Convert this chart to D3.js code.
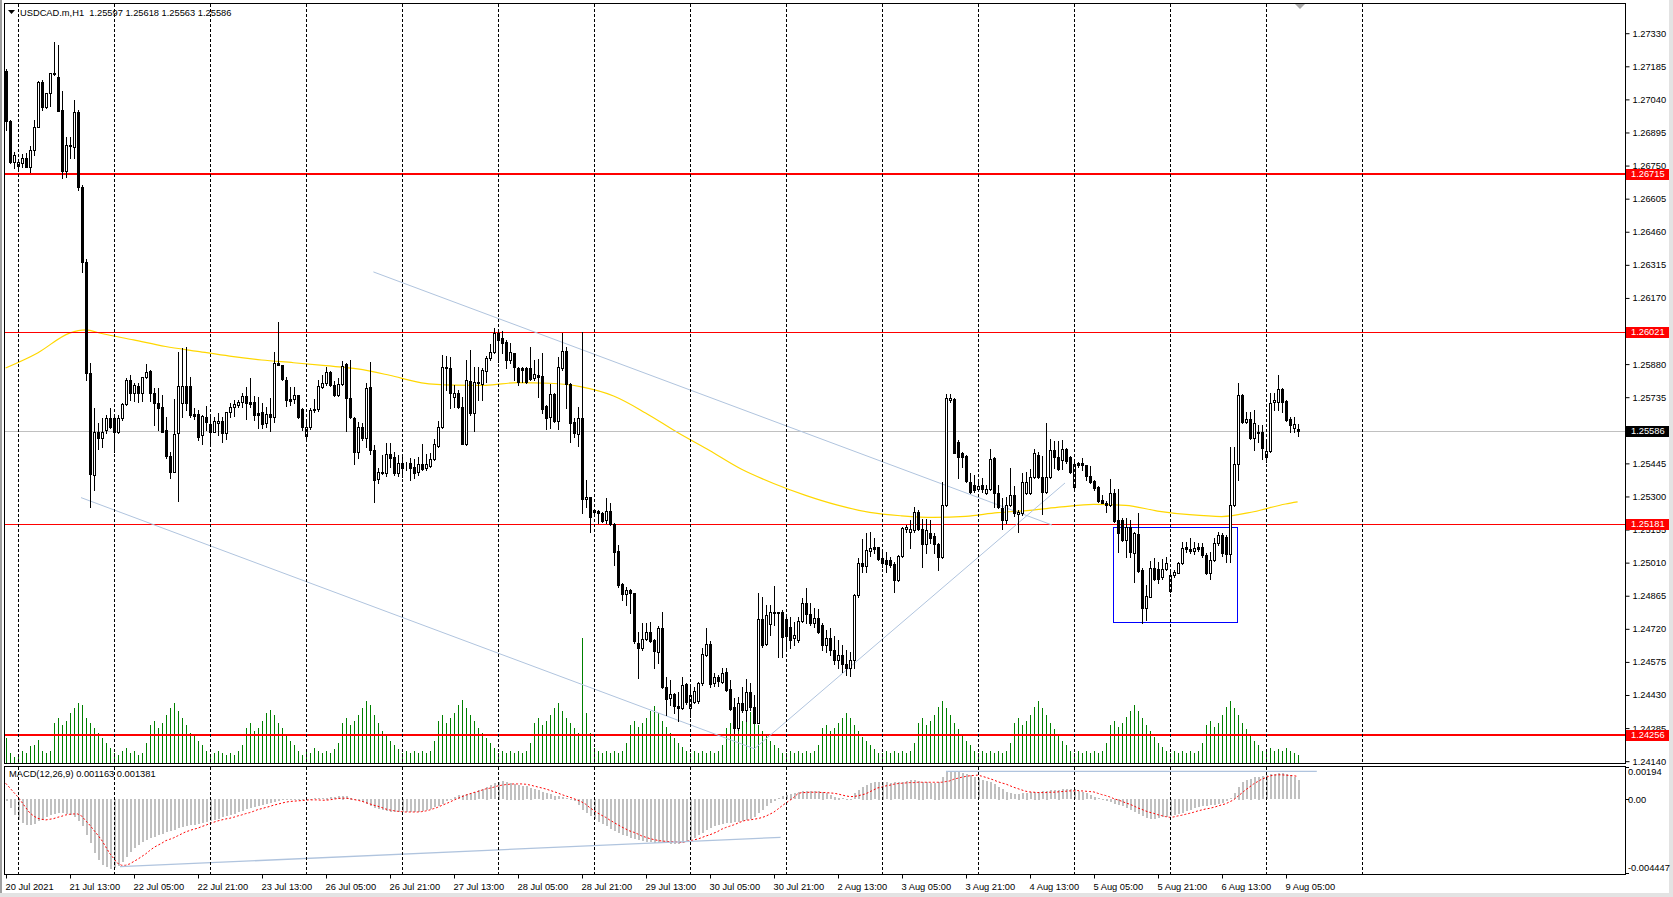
<!DOCTYPE html>
<html><head><meta charset="utf-8">
<script src="https://cdn.jsdelivr.net/npm/d3@7"></script>
<style>
body{margin:0;background:#fff;}
svg{display:block;font-family:"Liberation Sans",Arial,sans-serif;}
</style>
</head><body>
<svg id="c" width="1673" height="897"></svg>
<script>
// ---------------- DATA ----------------
const symbolTitle = "USDCAD.m,H1";
const opens = [
1.27166,1.26947,1.26767,1.26750,1.26760,1.26784,1.26745,1.26819,1.26921,1.27115,
1.27006,1.27067,1.27150,1.27137,1.26994,1.26728,1.26836,1.26833,1.26984,1.26655,
1.26326,1.25840,1.25394,1.25584,1.25555,1.25591,1.25643,1.25643,1.25584,1.25643,
1.25705,1.25811,1.25755,1.25784,1.25755,1.25822,1.25851,1.25752,1.25711,1.25691,
1.25591,1.25479,1.25409,1.25577,1.25711,1.25786,1.25786,1.25661,1.25661,1.25569,
1.25650,1.25618,1.25584,1.25621,1.25632,1.25577,1.25669,1.25691,1.25701,1.25715,
1.25740,1.25715,1.25715,1.25667,1.25669,1.25621,1.25660,1.25650,1.25886,1.25876,
1.25811,1.25727,1.25726,1.25745,1.25683,1.25565,1.25603,1.25678,1.25683,1.25781,
1.25796,1.25847,1.25789,1.25745,1.25793,1.25879,1.25730,1.25643,1.25494,1.25606,
1.25555,1.25779,1.25504,1.25375,1.25409,1.25404,1.25485,1.25474,1.25404,1.25445,
1.25437,1.25445,1.25431,1.25409,1.25442,1.25423,1.25435,1.25463,1.25522,1.25603,
1.25869,1.25862,1.25737,1.25752,1.25691,1.25530,1.25807,1.25664,1.25803,1.25793,
1.25850,1.25906,1.25932,1.26015,1.25993,1.25978,1.25898,1.25928,1.25864,1.25862,
1.25862,1.25862,1.25818,1.25832,1.25828,1.25696,1.25647,1.25749,1.25632,1.25862,
1.25938,1.25792,1.25625,1.25574,1.25643,1.25289,1.25296,1.25241,1.25238,1.25226,
1.25197,1.25236,1.25179,1.25062,1.24916,1.24871,1.24890,1.24878,1.24659,1.24635,
1.24674,1.24707,1.24671,1.24620,1.24722,1.24464,1.24415,1.24433,1.24382,1.24372,
1.24478,1.24372,1.24401,1.24405,1.24481,1.24605,1.24653,1.24484,1.24507,1.24488,
1.24532,1.24455,1.24376,1.24284,1.24393,1.24364,1.24444,1.24378,1.24308,1.24762,
1.24653,1.24741,1.24795,1.24795,1.24795,1.24762,1.24729,1.24678,1.24671,1.24756,
1.24834,1.24785,1.24744,1.24766,1.24737,1.24649,1.24680,1.24627,1.24583,1.24605,
1.24566,1.24548,1.24583,1.24868,1.25010,1.24995,1.25062,1.25077,1.25077,1.25029,
1.25022,1.25022,1.25003,1.24934,1.25039,1.25156,1.25146,1.25153,1.25233,1.25156,
1.25092,1.25141,1.25127,1.25092,1.25033,1.25263,1.25723,1.25726,1.25540,1.25489,
1.25477,1.25365,1.25350,1.25331,1.25350,1.25314,1.25331,1.25467,1.25314,1.25248,
1.25197,1.25263,1.25306,1.25223,1.25226,1.25314,1.25317,1.25384,1.25482,1.25384,
1.25321,1.25384,1.25504,1.25472,1.25460,1.25507,1.25472,1.25340,1.25445,1.25445,
1.25438,1.25390,1.25369,1.25343,1.25284,1.25273,1.25263,1.25314,1.25197,1.25197,
1.25109,1.25168,1.25054,1.25136,1.24978,1.24810,1.24861,1.24985,1.24981,1.24946,
1.24981,1.24887,1.24956,1.24966,1.25007,1.25077,1.25068,1.25062,1.25077,1.25077,
1.25043,1.24963,1.25022,1.25095,1.25131,1.25124,1.25048,1.25263,1.25441,1.25745,
1.25628,1.25638,1.25555,1.25577,1.25584,1.25472,1.25501,1.25713,1.25713,1.25770,
1.25720,1.25638,1.25599,1.25597];
const highs = [
1.27175,1.26950,1.26811,1.26772,1.26801,1.26804,1.26836,1.26950,1.27121,1.27125,
1.27068,1.27157,1.27291,1.27279,1.27078,1.26877,1.26877,1.27038,1.26994,1.26665,
1.26341,1.25884,1.25686,1.25621,1.25643,1.25657,1.25686,1.25650,1.25657,1.25711,
1.25818,1.25832,1.25796,1.25796,1.25825,1.25879,1.25854,1.25774,1.25774,1.25745,
1.25650,1.25496,1.25726,1.25935,1.25949,1.25956,1.25825,1.25686,1.25679,1.25657,
1.25696,1.25650,1.25650,1.25664,1.25650,1.25671,1.25708,1.25723,1.25723,1.25752,
1.25781,1.25818,1.25740,1.25737,1.25711,1.25693,1.25730,1.25932,1.26066,1.25876,
1.25822,1.25779,1.25781,1.25745,1.25689,1.25628,1.25686,1.25726,1.25811,1.25832,
1.25869,1.25851,1.25807,1.25818,1.25894,1.25884,1.25898,1.25650,1.25628,1.25621,
1.25799,1.25891,1.25526,1.25423,1.25482,1.25533,1.25533,1.25496,1.25482,1.25474,
1.25452,1.25467,1.25463,1.25474,1.25530,1.25486,1.25489,1.25550,1.25632,1.25920,
1.25916,1.25913,1.25789,1.25767,1.25737,1.25898,1.25942,1.25869,1.25869,1.25862,
1.25916,1.25968,1.26037,1.26034,1.26027,1.25986,1.25971,1.25930,1.25869,1.25869,
1.25869,1.25956,1.25898,1.25901,1.25928,1.25701,1.25793,1.25752,1.25913,1.26018,
1.25956,1.25796,1.25643,1.25693,1.26022,1.25372,1.25299,1.25244,1.25241,1.25233,
1.25292,1.25273,1.25182,1.25087,1.24922,1.24904,1.24893,1.24878,1.24707,1.24747,
1.24744,1.24751,1.24674,1.24732,1.24795,1.24510,1.24496,1.24437,1.24444,1.24507,
1.24481,1.24466,1.24466,1.24488,1.24635,1.24722,1.24668,1.24528,1.24518,1.24547,
1.24547,1.24496,1.24415,1.24422,1.24466,1.24499,1.24481,1.24430,1.24878,1.24861,
1.24824,1.24824,1.24908,1.24795,1.24803,1.24776,1.24773,1.24750,1.24773,1.24856,
1.24898,1.24832,1.24810,1.24805,1.24745,1.24715,1.24724,1.24688,1.24671,1.24649,
1.24627,1.24618,1.24873,1.25029,1.25112,1.25141,1.25146,1.25117,1.25080,1.25058,
1.25058,1.25033,1.25014,1.25043,1.25165,1.25175,1.25197,1.25255,1.25241,1.25200,
1.25200,1.25197,1.25141,1.25095,1.25365,1.25749,1.25749,1.25730,1.25548,1.25496,
1.25482,1.25402,1.25394,1.25365,1.25380,1.25350,1.25507,1.25472,1.25350,1.25292,
1.25299,1.25423,1.25346,1.25241,1.25404,1.25409,1.25419,1.25507,1.25496,1.25477,
1.25622,1.25550,1.25544,1.25544,1.25548,1.25511,1.25477,1.25460,1.25452,1.25467,
1.25438,1.25434,1.25372,1.25346,1.25306,1.25281,1.25375,1.25331,1.25331,1.25204,
1.25204,1.25197,1.25146,1.25229,1.24985,1.24912,1.25019,1.25029,1.25014,1.25025,
1.25036,1.24978,1.24978,1.25014,1.25102,1.25102,1.25117,1.25102,1.25097,1.25097,
1.25051,1.25058,1.25117,1.25146,1.25141,1.25131,1.25516,1.25516,1.25799,1.25749,
1.25671,1.25671,1.25679,1.25613,1.25613,1.25550,1.25755,1.25752,1.25832,1.25774,
1.25723,1.25650,1.25650,1.25618];
const lows = [
1.26906,1.26762,1.26738,1.26734,1.26745,1.26743,1.26723,1.26797,1.26918,1.26994,
1.27003,1.27011,1.27147,1.26991,1.26695,1.26702,1.26782,1.26782,1.26643,1.26285,
1.25811,1.25253,1.25328,1.25507,1.25518,1.25577,1.25599,1.25496,1.25580,1.25635,
1.25701,1.25723,1.25720,1.25715,1.25720,1.25818,1.25720,1.25613,1.25591,1.25584,
1.25467,1.25382,1.25409,1.25281,1.25647,1.25679,1.25647,1.25638,1.25548,1.25530,
1.25591,1.25533,1.25581,1.25569,1.25540,1.25550,1.25650,1.25653,1.25693,1.25691,
1.25638,1.25693,1.25635,1.25599,1.25599,1.25606,1.25588,1.25628,1.25875,1.25811,
1.25696,1.25701,1.25708,1.25643,1.25591,1.25550,1.25594,1.25671,1.25675,1.25774,
1.25789,1.25784,1.25740,1.25740,1.25789,1.25588,1.25643,1.25442,1.25467,1.25548,
1.25518,1.25486,1.25277,1.25358,1.25399,1.25390,1.25431,1.25394,1.25390,1.25387,
1.25416,1.25372,1.25380,1.25394,1.25416,1.25416,1.25431,1.25460,1.25518,1.25599,
1.25767,1.25686,1.25691,1.25686,1.25530,1.25526,1.25657,1.25588,1.25723,1.25723,
1.25803,1.25898,1.25928,1.25891,1.25928,1.25862,1.25884,1.25811,1.25789,1.25803,
1.25796,1.25811,1.25811,1.25737,1.25664,1.25594,1.25599,1.25628,1.25594,1.25854,
1.25686,1.25540,1.25562,1.25521,1.25226,1.25255,1.25146,1.25214,1.25185,1.25189,
1.25185,1.25175,1.25000,1.24904,1.24846,1.24824,1.24788,1.24659,1.24503,1.24627,
1.24671,1.24663,1.24547,1.24569,1.24459,1.24342,1.24386,1.24350,1.24317,1.24367,
1.24390,1.24335,1.24396,1.24393,1.24474,1.24601,1.24466,1.24469,1.24469,1.24484,
1.24449,1.24364,1.24262,1.24276,1.24357,1.24317,1.24364,1.24306,1.24306,1.24642,
1.24649,1.24693,1.24737,1.24595,1.24598,1.24635,1.24636,1.24649,1.24663,1.24751,
1.24744,1.24737,1.24729,1.24700,1.24627,1.24618,1.24605,1.24566,1.24548,1.24531,
1.24518,1.24513,1.24548,1.24861,1.24970,1.24970,1.25039,1.25051,1.25022,1.24992,
1.24970,1.24991,1.24883,1.24931,1.25036,1.25146,1.25073,1.25146,1.25153,1.24990,
1.25051,1.25095,1.25051,1.24978,1.25029,1.25258,1.25715,1.25489,1.25380,1.25431,
1.25365,1.25314,1.25321,1.25325,1.25321,1.25311,1.25328,1.25255,1.25248,1.25156,
1.25185,1.25258,1.25214,1.25146,1.25219,1.25311,1.25311,1.25380,1.25380,1.25223,
1.25317,1.25380,1.25423,1.25416,1.25419,1.25448,1.25402,1.25336,1.25431,1.25416,
1.25372,1.25358,1.25328,1.25277,1.25270,1.25233,1.25258,1.25189,1.25058,1.25106,
1.25036,1.25033,1.24926,1.24970,1.24744,1.24759,1.24858,1.24934,1.24919,1.24937,
1.24978,1.24883,1.24946,1.24963,1.25004,1.25058,1.25054,1.25048,1.25062,1.25036,
1.24960,1.24937,1.25019,1.25087,1.25039,1.25014,1.25014,1.25258,1.25372,1.25623,
1.25623,1.25550,1.25504,1.25540,1.25463,1.25452,1.25496,1.25679,1.25679,1.25671,
1.25632,1.25584,1.25584,1.25563];
const closes = [
1.26947,1.26767,1.26795,1.26765,1.26784,1.26745,1.26819,1.26921,1.27115,1.27006,
1.27067,1.27155,1.27157,1.26991,1.26728,1.26841,1.26841,1.26984,1.26655,1.26326,
1.25840,1.25399,1.25584,1.25555,1.25584,1.25643,1.25606,1.25584,1.25643,1.25705,
1.25811,1.25752,1.25789,1.25755,1.25822,1.25847,1.25752,1.25711,1.25686,1.25584,
1.25479,1.25406,1.25573,1.25786,1.25786,1.25711,1.25657,1.25653,1.25562,1.25653,
1.25628,1.25584,1.25632,1.25632,1.25577,1.25669,1.25691,1.25705,1.25715,1.25740,
1.25711,1.25705,1.25657,1.25657,1.25618,1.25660,1.25650,1.25884,1.25875,1.25814,
1.25723,1.25720,1.25745,1.25647,1.25603,1.25603,1.25679,1.25683,1.25784,1.25796,
1.25847,1.25789,1.25745,1.25793,1.25873,1.25730,1.25647,1.25496,1.25606,1.25555,
1.25774,1.25504,1.25372,1.25406,1.25404,1.25485,1.25467,1.25404,1.25445,1.25423,
1.25438,1.25423,1.25404,1.25442,1.25420,1.25442,1.25463,1.25530,1.25603,1.25869,
1.25862,1.25752,1.25752,1.25691,1.25530,1.25811,1.25664,1.25803,1.25796,1.25854,
1.25906,1.25932,1.26015,1.25986,1.25971,1.25898,1.25932,1.25869,1.25803,1.25854,
1.25803,1.25815,1.25837,1.25822,1.25682,1.25643,1.25749,1.25632,1.25866,1.25938,
1.25792,1.25623,1.25577,1.25643,1.25289,1.25299,1.25209,1.25233,1.25226,1.25194,
1.25236,1.25179,1.25058,1.24912,1.24871,1.24890,1.24876,1.24668,1.24635,1.24674,
1.24705,1.24668,1.24623,1.24722,1.24464,1.24411,1.24433,1.24382,1.24372,1.24474,
1.24401,1.24430,1.24449,1.24481,1.24610,1.24653,1.24478,1.24507,1.24493,1.24528,
1.24452,1.24367,1.24284,1.24393,1.24364,1.24444,1.24378,1.24308,1.24762,1.24649,
1.24781,1.24795,1.24788,1.24788,1.24685,1.24688,1.24671,1.24693,1.24756,1.24834,
1.24785,1.24744,1.24766,1.24707,1.24649,1.24680,1.24627,1.24583,1.24605,1.24566,
1.24548,1.24583,1.24868,1.25010,1.24995,1.25065,1.25073,1.25068,1.25025,1.25007,
1.25004,1.25000,1.24934,1.25039,1.25160,1.25165,1.25156,1.25233,1.25156,1.25092,
1.25153,1.25117,1.25092,1.25033,1.25263,1.25730,1.25730,1.25492,1.25472,1.25472,
1.25369,1.25321,1.25328,1.25346,1.25331,1.25331,1.25463,1.25314,1.25253,1.25197,
1.25263,1.25306,1.25226,1.25233,1.25365,1.25365,1.25387,1.25489,1.25384,1.25321,
1.25384,1.25504,1.25472,1.25419,1.25507,1.25457,1.25409,1.25442,1.25438,1.25438,
1.25390,1.25365,1.25336,1.25281,1.25273,1.25263,1.25314,1.25194,1.25139,1.25109,
1.25168,1.25058,1.25139,1.24975,1.24810,1.24864,1.24985,1.24937,1.24937,1.24981,
1.25007,1.24956,1.24970,1.25010,1.25073,1.25068,1.25062,1.25073,1.25068,1.25043,
1.24966,1.25022,1.25095,1.25131,1.25051,1.25048,1.25263,1.25441,1.25745,1.25628,
1.25638,1.25555,1.25621,1.25584,1.25511,1.25501,1.25708,1.25723,1.25770,1.25715,
1.25635,1.25613,1.25618,1.25586];
const tickVolumes = [
25,10,6,
6,12,10,17,18,23,12,10,12,40,45,38,42,50,55,60,58,45,40,35,30,25,20,15,
10,8,12,15,10,12,8,10,20,38,42,35,40,48,55,60,52,45,38,30,28,22,18,12,
8,10,12,10,8,10,8,12,18,35,40,32,35,42,50,53,48,40,35,28,22,18,12,8,
12,10,15,12,10,12,10,14,20,40,45,38,42,48,55,62,58,48,40,32,28,22,18,14,
10,12,10,12,10,12,10,12,22,42,48,40,45,50,58,63,55,48,42,35,30,25,20,15,
10,12,10,12,10,12,10,12,20,40,45,38,42,48,55,60,52,45,40,35,30,125,50,30,
15,12,10,12,10,12,10,12,20,38,42,36,40,45,52,57,50,42,36,30,25,20,16,12,
10,12,10,12,10,12,10,12,18,35,40,33,36,42,48,51,45,38,32,28,22,18,15,10,
10,12,10,12,10,12,10,12,18,35,38,32,35,40,45,50,45,38,32,26,22,18,14,10,
10,12,10,12,10,12,10,12,20,40,45,38,42,48,56,62,55,48,40,34,28,22,18,12,
10,12,10,12,10,12,10,12,20,40,45,38,42,48,56,62,55,48,40,34,28,22,18,12,
10,12,10,12,10,12,10,12,20,38,42,36,40,46,52,58,52,45,38,32,26,20,16,12,
10,12,10,12,10,12,10,12,20,38,42,36,40,48,56,62,55,48,40,34,28,22,18,12,
12,15,12,14,12,15,12,10,8];
const macdMain = [
-0.00014,-0.00055,-0.00095,-0.00125,-0.00145,-0.00157,-0.00159,-0.00149,-0.00135,-0.00125,
-0.00111,-0.00099,-0.00089,-0.00085,-0.00085,-0.00089,-0.00097,-0.00109,-0.00135,-0.00165,
-0.00215,-0.00266,-0.00326,-0.00370,-0.00396,-0.00410,-0.00420,-0.00418,-0.00402,-0.00378,
-0.00352,-0.00322,-0.00296,-0.00276,-0.00262,-0.00250,-0.00238,-0.00227,-0.00217,-0.00209,
-0.00201,-0.00193,-0.00185,-0.00177,-0.00171,-0.00165,-0.00159,-0.00155,-0.00151,-0.00147,
-0.00141,-0.00135,-0.00127,-0.00119,-0.00111,-0.00103,-0.00095,-0.00089,-0.00081,-0.00071,
-0.00061,-0.00055,-0.00049,-0.00042,-0.00036,-0.00032,-0.00026,-0.00018,-0.00012,-0.00008,
-0.00004,-0.00002,0.00000,0.00000,0.00002,0.00002,0.00004,0.00006,0.00006,0.00008,
0.00010,0.00012,0.00014,0.00018,0.00022,0.00018,0.00010,0.00000,-0.00008,-0.00018,
-0.00030,-0.00042,-0.00055,-0.00063,-0.00069,-0.00075,-0.00077,-0.00079,-0.00081,-0.00081,
-0.00081,-0.00081,-0.00079,-0.00077,-0.00073,-0.00067,-0.00059,-0.00049,-0.00040,-0.00028,
-0.00012,0.00000,0.00014,0.00024,0.00028,0.00034,0.00040,0.00046,0.00054,0.00062,
0.00076,0.00086,0.00096,0.00106,0.00110,0.00106,0.00100,0.00094,0.00088,0.00082,
0.00078,0.00070,0.00062,0.00054,0.00046,0.00038,0.00030,0.00022,0.00018,0.00014,
0.00006,-0.00002,-0.00012,-0.00034,-0.00065,-0.00085,-0.00105,-0.00121,-0.00137,-0.00153,
-0.00165,-0.00179,-0.00191,-0.00203,-0.00215,-0.00225,-0.00233,-0.00242,-0.00250,-0.00256,
-0.00260,-0.00262,-0.00264,-0.00266,-0.00268,-0.00268,-0.00270,-0.00270,-0.00272,-0.00268,
-0.00258,-0.00246,-0.00232,-0.00217,-0.00203,-0.00189,-0.00177,-0.00165,-0.00155,-0.00149,
-0.00145,-0.00143,-0.00139,-0.00137,-0.00135,-0.00129,-0.00119,-0.00109,-0.00085,-0.00065,
-0.00040,-0.00024,-0.00010,0.00006,0.00018,0.00026,0.00034,0.00038,0.00044,0.00050,
0.00050,0.00050,0.00048,0.00048,0.00046,0.00036,0.00024,0.00016,0.00010,0.00006,
0.00002,0.00000,0.00036,0.00056,0.00076,0.00088,0.00100,0.00104,0.00106,0.00106,
0.00102,0.00100,0.00102,0.00102,0.00106,0.00110,0.00114,0.00116,0.00112,0.00106,
0.00102,0.00096,0.00100,0.00106,0.00132,0.00163,0.00169,0.00167,0.00163,0.00159,
0.00151,0.00143,0.00134,0.00126,0.00116,0.00110,0.00102,0.00092,0.00076,0.00060,
0.00046,0.00038,0.00032,0.00034,0.00036,0.00040,0.00044,0.00046,0.00046,0.00048,
0.00052,0.00054,0.00056,0.00058,0.00060,0.00060,0.00060,0.00060,0.00052,0.00046,
0.00036,0.00026,0.00016,0.00006,-0.00002,-0.00010,-0.00018,-0.00028,-0.00036,-0.00044,
-0.00055,-0.00065,-0.00077,-0.00091,-0.00105,-0.00115,-0.00119,-0.00121,-0.00117,-0.00111,
-0.00107,-0.00101,-0.00095,-0.00089,-0.00083,-0.00075,-0.00065,-0.00057,-0.00049,-0.00044,
-0.00040,-0.00038,-0.00034,-0.00030,-0.00026,-0.00014,0.00006,0.00036,0.00076,0.00106,
0.00116,0.00124,0.00132,0.00136,0.00140,0.00144,0.00149,0.00153,0.00157,0.00157,
0.00151,0.00143,0.00132,0.001163];
const macdSignal = [
0.00096,0.00070,0.00042,0.00016,-0.00016,-0.00050,-0.00081,-0.00101,-0.00115,-0.00121,
-0.00125,-0.00121,-0.00117,-0.00109,-0.00103,-0.00095,-0.00091,-0.00089,-0.00089,-0.00101,
-0.00129,-0.00155,-0.00185,-0.00215,-0.00246,-0.00286,-0.00326,-0.00356,-0.00386,-0.00398,
-0.00398,-0.00390,-0.00376,-0.00362,-0.00346,-0.00330,-0.00310,-0.00292,-0.00278,-0.00266,
-0.00250,-0.00242,-0.00233,-0.00221,-0.00209,-0.00197,-0.00189,-0.00181,-0.00175,-0.00165,
-0.00157,-0.00147,-0.00139,-0.00131,-0.00125,-0.00119,-0.00115,-0.00109,-0.00101,-0.00095,
-0.00087,-0.00081,-0.00073,-0.00063,-0.00057,-0.00050,-0.00044,-0.00036,-0.00030,-0.00024,
-0.00018,-0.00014,-0.00012,-0.00010,-0.00008,-0.00006,-0.00004,-0.00004,-0.00004,-0.00006,
-0.00006,-0.00004,0.00000,0.00004,0.00006,0.00006,0.00004,-0.00002,-0.00006,-0.00012,
-0.00020,-0.00028,-0.00036,-0.00042,-0.00050,-0.00059,-0.00065,-0.00069,-0.00073,-0.00075,
-0.00077,-0.00077,-0.00077,-0.00077,-0.00075,-0.00071,-0.00065,-0.00057,-0.00049,-0.00038,
-0.00028,-0.00018,-0.00006,0.00004,0.00014,0.00024,0.00032,0.00040,0.00046,0.00054,
0.00062,0.00066,0.00072,0.00080,0.00084,0.00088,0.00090,0.00092,0.00092,0.00092,
0.00090,0.00086,0.00080,0.00074,0.00068,0.00062,0.00054,0.00046,0.00038,0.00028,
0.00020,0.00012,0.00004,-0.00006,-0.00016,-0.00030,-0.00050,-0.00067,-0.00083,-0.00097,
-0.00109,-0.00125,-0.00139,-0.00153,-0.00167,-0.00179,-0.00191,-0.00199,-0.00209,-0.00221,
-0.00229,-0.00237,-0.00243,-0.00248,-0.00252,-0.00254,-0.00256,-0.00256,-0.00258,-0.00260,
-0.00256,-0.00250,-0.00246,-0.00240,-0.00232,-0.00222,-0.00215,-0.00205,-0.00195,-0.00181,
-0.00171,-0.00163,-0.00155,-0.00145,-0.00135,-0.00127,-0.00125,-0.00121,-0.00117,-0.00111,
-0.00103,-0.00091,-0.00079,-0.00061,-0.00042,-0.00024,-0.00008,0.00010,0.00032,0.00040,
0.00040,0.00042,0.00042,0.00042,0.00040,0.00040,0.00038,0.00036,0.00032,0.00026,
0.00020,0.00016,0.00016,0.00020,0.00026,0.00032,0.00044,0.00056,0.00068,0.00072,
0.00080,0.00084,0.00090,0.00094,0.00096,0.00098,0.00100,0.00100,0.00102,0.00102,
0.00102,0.00102,0.00102,0.00102,0.00102,0.00106,0.00110,0.00120,0.00126,0.00132,
0.00137,0.00141,0.00143,0.00145,0.00139,0.00132,0.00124,0.00116,0.00106,0.00098,
0.00092,0.00082,0.00072,0.00064,0.00056,0.00048,0.00044,0.00042,0.00040,0.00040,
0.00040,0.00042,0.00042,0.00044,0.00046,0.00048,0.00050,0.00050,0.00052,0.00050,
0.00048,0.00046,0.00044,0.00036,0.00028,0.00022,0.00014,0.00004,-0.00004,-0.00012,
-0.00022,-0.00030,-0.00040,-0.00052,-0.00061,-0.00071,-0.00079,-0.00085,-0.00093,-0.00099,
-0.00105,-0.00109,-0.00107,-0.00101,-0.00097,-0.00091,-0.00085,-0.00079,-0.00071,-0.00065,
-0.00059,-0.00055,-0.00049,-0.00042,-0.00034,-0.00028,-0.00016,-0.00004,0.00016,0.00036,
0.00056,0.00074,0.00092,0.00106,0.00120,0.00130,0.00140,0.00145,0.00147,0.00147,
0.00145,0.00143,0.00141,0.001381];
// Moving average (yellow) read at sample bars
const maBars   = [0,8,16,20,24,32,40,48,56,64,72,80,88,96,104,112,120,128,136,144,152,160,168,176,184,192,200,208,216,224,232,240,248,256,264,272,280,288,296,304,312,320,323];
const maValues = [1.25863,1.25929,1.26016,1.26030,1.26014,1.25986,1.25957,1.25936,1.25915,1.25898,1.25886,1.25873,1.25859,1.25831,1.25798,1.25788,1.25787,1.25799,1.25796,1.25780,1.25740,1.25666,1.25580,1.25501,1.25419,1.25357,1.25305,1.25262,1.25230,1.25215,1.25208,1.25213,1.25229,1.25239,1.25254,1.25265,1.25261,1.25236,1.25220,1.25212,1.25233,1.25267,1.25276];
const levelPrices = [1.26715, 1.26021, 1.25181, 1.24256];
const currentPrice = 1.25586;
const priceTicks = [1.27330,1.27185,1.27040,1.26895,1.26750,1.26605,1.26460,1.26315,1.26170,1.26025,1.25880,1.25735,1.25590,1.25445,1.25300,1.25155,1.25010,1.24865,1.24720,1.24575,1.24430,1.24285,1.24140];
const macdTicks = [0.00194, 0, -0.004447];
const macdTickLabels = ["0.00194", "0.00", "-0.004447"];
const timeLabelBars = [0,16,32,48,64,80,96,112,128,144,160,176,192,208,224,240,256,272,288,304,320];
const timeLabels = ["20 Jul 2021","21 Jul 13:00","22 Jul 05:00","22 Jul 21:00","23 Jul 13:00","26 Jul 05:00","26 Jul 21:00","27 Jul 13:00","28 Jul 05:00","28 Jul 21:00","29 Jul 13:00","30 Jul 05:00","30 Jul 21:00","2 Aug 13:00","3 Aug 05:00","3 Aug 21:00","4 Aug 13:00","5 Aug 05:00","5 Aug 21:00","6 Aug 13:00","9 Aug 05:00"];
const daySeparatorBars = [3,27,51,75,99,123,147,171,195,219,243,267,291,315,339];
// trend lines: [bar1, price1, bar2, price2]
const priceTrendLines = [[91.95,1.26284,261.6,1.25175],[18.85,1.25295,187.1,1.24195],[187.1,1.24193,264.85,1.25359]];
const macdTrendLines = [[28.6,-0.004067,193.75,-0.002296],[235.1,0.001681,327.8,0.001681]];
const boxRect = [276.9, 1.25165, 307.9, 1.24749];

// ---------------- LAYOUT ----------------
const L = 4.5, R = 1625.5, T = 3.5, MB = 763.5, MT = 766.5, BB = 874.5;
const svg = d3.select('#c');
const n = opens.length;
const x = d3.scaleLinear().domain([0, n - 1]).range([5.6, 5.6 + 4 * (n - 1)]);
const px = i => Math.round(x(i)) + 0.5;
const yP = d3.scaleLinear().domain([1.24132, 1.27458]).range([763, 4]);
const yM = d3.scaleLinear().domain([-0.004447, 0.00194]).range([873, 767]);
const yV = d3.scaleLinear().domain([0, 125]).range([763, 638]);
const cr = v => Math.round(v) + 0.5;

svg.append('rect').attr('width',1673).attr('height',897).attr('fill','#fff');
svg.append('rect').attr('x',0).attr('y',0).attr('width',2).attr('height',897).attr('fill','#a0a0a0');
svg.append('rect').attr('x',1669).attr('y',0).attr('width',4).attr('height',897).attr('fill','#e3e3e3');
svg.append('rect').attr('x',0).attr('y',893).attr('width',1673).attr('height',4).attr('fill','#e3e3e3');

const defs = svg.append('defs');
defs.append('clipPath').attr('id','clipMain').append('rect').attr('x',L).attr('y',T).attr('width',R-L).attr('height',MB-T);
defs.append('clipPath').attr('id','clipMacd').append('rect').attr('x',L).attr('y',MT).attr('width',R-L).attr('height',BB-MT);

const gMain = svg.append('g').attr('clip-path','url(#clipMain)');
const gMacd = svg.append('g').attr('clip-path','url(#clipMacd)');

daySeparatorBars.forEach(b => {
  [[T, MB],[MT, BB]].forEach(([a,bb]) => {
    svg.append('line').attr('x1',px(b)).attr('x2',px(b)).attr('y1',a).attr('y2',bb)
      .attr('stroke','#000').attr('stroke-dasharray','3,2').attr('shape-rendering','crispEdges');
  });
});

tickVolumes.forEach((v,i) => {
  gMain.append('line').attr('x1',px(i)).attr('x2',px(i)).attr('y1',763).attr('y2',Math.round(yV(v)))
    .attr('stroke','#008000').attr('shape-rendering','crispEdges');
});

gMain.append('path').datum(maBars.map((b,k)=>[b,maValues[k]]))
  .attr('d', d3.line().x(d=>x(d[0])).y(d=>yP(d[1])).curve(d3.curveMonotoneX))
  .attr('fill','none').attr('stroke','#ffd700').attr('stroke-width',1.2);

const levelWidths = [2,1,1,2];
levelPrices.forEach((p,k) => {
  const yy = levelWidths[k]===2 ? Math.round(yP(p)) : cr(yP(p));
  gMain.append('line').attr('x1',L).attr('x2',R).attr('y1',yy).attr('y2',yy)
    .attr('stroke','#ff0000').attr('stroke-width',levelWidths[k]).attr('shape-rendering','crispEdges');
});
gMain.append('line').attr('x1',L).attr('x2',R).attr('y1',cr(yP(currentPrice))).attr('y2',cr(yP(currentPrice)))
  .attr('stroke','#c0c0c0').attr('shape-rendering','crispEdges');

priceTrendLines.forEach(t => {
  gMain.append('line').attr('x1',x(t[0])).attr('y1',yP(t[1])).attr('x2',x(t[2])).attr('y2',yP(t[3]))
    .attr('stroke','#b0c4de').attr('stroke-width',1);
});
gMain.append('rect').attr('x',cr(x(boxRect[0]))).attr('y',cr(yP(boxRect[1])))
  .attr('width',Math.round(x(boxRect[2])-x(boxRect[0]))).attr('height',Math.round(yP(boxRect[3])-yP(boxRect[1])))
  .attr('fill','none').attr('stroke','#0000ff').attr('shape-rendering','crispEdges');

for (let i = 0; i < n; i++) {
  const xc = px(i), o = opens[i], c = closes[i];
  gMain.append('line').attr('x1',xc).attr('x2',xc).attr('y1',Math.round(yP(highs[i]))).attr('y2',Math.round(yP(lows[i]))+1)
    .attr('stroke','#000').attr('shape-rendering','crispEdges');
  const top = cr(yP(Math.max(o,c))), bot = cr(yP(Math.min(o,c)));
  gMain.append('rect').attr('x',xc-1).attr('y',top).attr('width',2).attr('height',Math.max(0,bot-top))
    .attr('fill', c >= o ? '#fff' : '#000').attr('stroke','#000').attr('shape-rendering','crispEdges');
}

macdMain.forEach((v,i) => {
  const y0 = yM(0), y1 = yM(v);
  gMacd.append('rect').attr('x',Math.round(x(i))).attr('y',Math.round(Math.min(y0,y1))).attr('width',2)
    .attr('height',Math.max(1,Math.round(Math.abs(y1-y0)))).attr('fill','#c0c0c0').attr('shape-rendering','crispEdges');
});
gMacd.append('path').datum(macdSignal)
  .attr('d', d3.line().x((d,i)=>x(i)).y(d=>yM(d)))
  .attr('fill','none').attr('stroke','#ff0000').attr('stroke-width',1).attr('stroke-dasharray','2,2');
macdTrendLines.forEach(t => {
  gMacd.append('line').attr('x1',x(t[0])).attr('y1',yM(t[1])).attr('x2',x(t[2])).attr('y2',yM(t[3]))
    .attr('stroke','#b0c4de').attr('stroke-width',1.3);
});

svg.append('rect').attr('x',L).attr('y',T).attr('width',R-L).attr('height',MB-T).attr('fill','none').attr('stroke','#000').attr('shape-rendering','crispEdges');
svg.append('rect').attr('x',L).attr('y',MT).attr('width',R-L).attr('height',BB-MT).attr('fill','none').attr('stroke','#000').attr('shape-rendering','crispEdges');

svg.append('path').attr('d','M1295,4 L1305,4 L1300,9 Z').attr('fill','#a8a8a8');

const FS = '9.3px';
const yAxis = d3.axisRight(yP).tickValues(priceTicks).tickSize(4).tickPadding(3).tickFormat(d=>d.toFixed(5));
const gy = svg.append('g').attr('transform',`translate(${R},0)`).call(yAxis);
gy.select('.domain').remove();
gy.selectAll('text').attr('font-size',FS).attr('fill','#000').attr('font-family','"Liberation Sans",Arial,sans-serif');
gy.selectAll('line').attr('stroke','#000');

function priceLabel(p, bg) {
  const yy = yP(p);
  svg.append('rect').attr('x',1626).attr('y',Math.round(yy-5)).attr('width',43).attr('height',11).attr('fill',bg);
  svg.append('text').attr('x',1631).attr('y',yy).attr('dy','0.35em').attr('font-size',FS).attr('fill','#fff').text(p.toFixed(5));
}
levelPrices.forEach(p => priceLabel(p,'#ff0000'));
priceLabel(currentPrice,'#000000');

const macdLabelY = [772, 799.5, 868];
macdTicks.forEach((v,k) => {
  svg.append('line').attr('x1',R).attr('x2',R+3).attr('y1',cr(yM(v))).attr('y2',cr(yM(v))).attr('stroke','#000').attr('shape-rendering','crispEdges');
  svg.append('text').attr('x',1628).attr('y',macdLabelY[k]).attr('dy','0.35em').attr('font-size',FS).attr('fill','#000').text(macdTickLabels[k]);
});

const xAxis = d3.axisBottom(x).tickValues(timeLabelBars).tickSize(4).tickPadding(5).tickFormat((d,k)=>timeLabels[k]);
const gx = svg.append('g').attr('transform',`translate(0,${BB})`).call(xAxis);
gx.select('.domain').remove();
gx.selectAll('.tick').attr('transform', d => `translate(${px(d)},0)`);
gx.selectAll('text').attr('font-size',FS).attr('fill','#000').attr('text-anchor','start').attr('x',-1)
  .attr('font-family','"Liberation Sans",Arial,sans-serif');
gx.selectAll('line').attr('stroke','#000');

svg.append('path').attr('d','M8,10 L15,10 L11.5,14 Z').attr('fill','#000');
const lastI = n - 1;
svg.append('text').attr('x',20).attr('y',16).attr('font-size',FS).attr('fill','#000').style('white-space','pre')
  .text(`${symbolTitle}  ${opens[lastI].toFixed(5)} ${highs[lastI].toFixed(5)} ${lows[lastI].toFixed(5)} ${closes[lastI].toFixed(5)}`);
svg.append('text').attr('x',9).attr('y',777).attr('font-size',FS).attr('fill','#000')
  .text(`MACD(12,26,9) ${macdMain[lastI].toFixed(6)} ${macdSignal[lastI].toFixed(6)}`);
</script>
</body></html>
